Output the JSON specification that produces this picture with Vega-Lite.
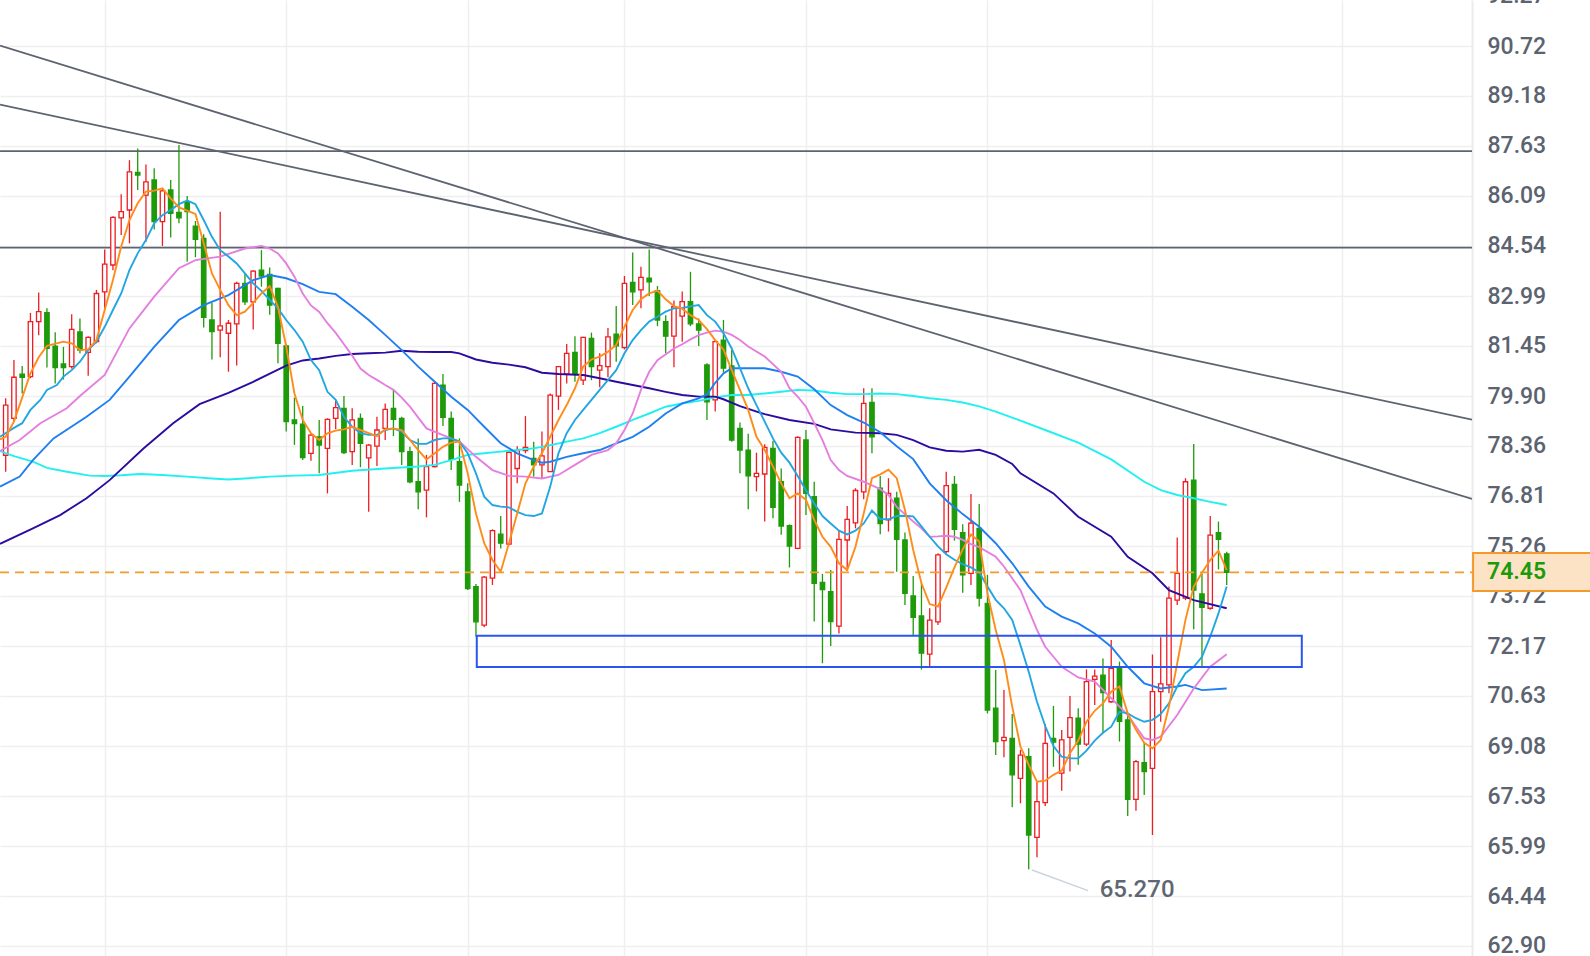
{
"$schema": "https://vega.github.io/schema/vega-lite/v6.json",
"width": 1472, "height": 956,
"autosize": {"type": "none"},
"padding": {"left": 0, "top": 0, "right": 118, "bottom": 0},
"background": "white",
"config": {"view": {"stroke": null}},
"datasets": {
"candles": [
{"i":0,"o":78.07,"h":79.83,"l":77.56,"c":79.62},{"i":1,"o":79.21,"h":81.01,"l":79.11,"c":80.48},{"i":2,"o":80.58,"h":80.83,"l":79.98,"c":80.48},{"i":3,"o":80.50,"h":82.47,"l":80.45,"c":82.20},{"i":4,"o":82.20,"h":83.10,"l":81.78,"c":82.51},{"i":5,"o":82.48,"h":82.61,"l":80.78,"c":81.37},{"i":6,"o":81.44,"h":81.87,"l":80.29,"c":80.78},{"i":7,"o":80.89,"h":81.42,"l":80.41,"c":80.78},{"i":8,"o":80.81,"h":82.43,"l":80.75,"c":81.96},{"i":9,"o":81.88,"h":82.30,"l":81.22,"c":81.32},
{"i":10,"o":81.25,"h":81.75,"l":80.53,"c":81.71},{"i":11,"o":81.58,"h":83.18,"l":81.53,"c":83.07},{"i":12,"o":83.12,"h":84.43,"l":82.58,"c":83.98},{"i":13,"o":83.95,"h":85.46,"l":83.79,"c":85.42},{"i":14,"o":85.41,"h":86.14,"l":84.88,"c":85.60},{"i":15,"o":85.65,"h":87.19,"l":84.62,"c":86.83},{"i":16,"o":86.81,"h":87.55,"l":86.27,"c":86.73},{"i":17,"o":86.11,"h":87.06,"l":84.67,"c":86.52},{"i":18,"o":86.58,"h":86.94,"l":85.05,"c":85.29},{"i":19,"o":85.29,"h":86.32,"l":84.54,"c":86.24},
{"i":20,"o":86.27,"h":86.58,"l":84.80,"c":85.55},{"i":21,"o":85.58,"h":87.66,"l":85.24,"c":85.41},{"i":22,"o":85.91,"h":86.08,"l":84.05,"c":85.60},{"i":23,"o":85.15,"h":85.31,"l":84.19,"c":84.74},{"i":24,"o":84.77,"h":84.90,"l":82.02,"c":82.33},{"i":25,"o":82.25,"h":82.78,"l":81.03,"c":81.89},{"i":26,"o":81.94,"h":85.60,"l":81.10,"c":82.07},{"i":27,"o":81.84,"h":82.25,"l":80.65,"c":82.15},{"i":28,"o":82.13,"h":83.43,"l":80.84,"c":83.38},{"i":29,"o":83.38,"h":83.67,"l":82.71,"c":82.81},
{"i":30,"o":82.81,"h":83.79,"l":81.96,"c":83.76},{"i":31,"o":83.79,"h":84.41,"l":83.28,"c":83.61},{"i":32,"o":83.66,"h":83.87,"l":82.41,"c":82.71},{"i":33,"o":83.23,"h":83.25,"l":80.91,"c":81.53},{"i":34,"o":81.45,"h":81.50,"l":78.80,"c":79.11},{"i":35,"o":79.16,"h":79.85,"l":78.39,"c":79.05},{"i":36,"o":79.03,"h":79.59,"l":77.92,"c":78.00},{"i":37,"o":78.13,"h":78.74,"l":77.90,"c":78.69},{"i":38,"o":78.64,"h":79.16,"l":77.51,"c":78.38},{"i":39,"o":78.28,"h":79.21,"l":76.89,"c":79.18},
{"i":40,"o":79.21,"h":79.78,"l":78.87,"c":79.54},{"i":41,"o":79.52,"h":79.90,"l":78.11,"c":78.15},{"i":42,"o":78.18,"h":79.52,"l":77.77,"c":79.16},{"i":43,"o":79.21,"h":79.36,"l":77.70,"c":78.44},{"i":44,"o":77.99,"h":78.42,"l":76.32,"c":78.38},{"i":45,"o":78.35,"h":79.26,"l":77.74,"c":78.85},{"i":46,"o":78.90,"h":79.67,"l":78.54,"c":79.49},{"i":47,"o":79.52,"h":80.09,"l":78.66,"c":79.18},{"i":48,"o":79.21,"h":79.26,"l":77.77,"c":78.18},{"i":49,"o":78.18,"h":78.33,"l":77.20,"c":77.25},
{"i":50,"o":77.25,"h":78.59,"l":76.40,"c":76.94},{"i":51,"o":76.99,"h":78.08,"l":76.15,"c":77.72},{"i":52,"o":77.72,"h":80.34,"l":77.69,"c":80.29},{"i":53,"o":80.24,"h":80.58,"l":78.97,"c":79.24},{"i":54,"o":79.21,"h":79.42,"l":77.61,"c":77.94},{"i":55,"o":77.87,"h":78.59,"l":76.63,"c":77.15},{"i":56,"o":76.94,"h":77.20,"l":73.90,"c":73.95},{"i":57,"o":74.01,"h":74.09,"l":72.46,"c":72.92},{"i":58,"o":72.82,"h":74.34,"l":72.75,"c":74.30},{"i":59,"o":74.27,"h":75.78,"l":74.06,"c":75.74},
{"i":60,"o":75.63,"h":76.19,"l":75.19,"c":75.35},{"i":61,"o":75.32,"h":78.21,"l":75.29,"c":78.16},{"i":62,"o":77.66,"h":78.35,"l":77.20,"c":78.21},{"i":63,"o":78.21,"h":79.28,"l":78.13,"c":78.31},{"i":64,"o":77.97,"h":78.49,"l":77.41,"c":77.77},{"i":65,"o":77.77,"h":78.80,"l":77.36,"c":78.05},{"i":66,"o":77.56,"h":79.98,"l":77.56,"c":79.93},{"i":67,"o":79.90,"h":80.83,"l":79.47,"c":80.81},{"i":68,"o":80.58,"h":81.51,"l":80.29,"c":81.22},{"i":69,"o":81.25,"h":81.75,"l":80.34,"c":80.60},
{"i":70,"o":80.39,"h":81.73,"l":80.24,"c":81.71},{"i":71,"o":81.68,"h":81.86,"l":80.39,"c":80.81},{"i":72,"o":80.70,"h":81.22,"l":80.17,"c":80.84},{"i":73,"o":80.81,"h":82.00,"l":80.48,"c":81.73},{"i":74,"o":81.81,"h":82.68,"l":80.96,"c":81.45},{"i":75,"o":81.40,"h":83.61,"l":81.34,"c":83.38},{"i":76,"o":83.41,"h":84.34,"l":82.71,"c":83.12},{"i":77,"o":83.18,"h":83.90,"l":82.61,"c":83.57},{"i":78,"o":83.54,"h":84.43,"l":82.99,"c":83.43},{"i":79,"o":83.16,"h":83.30,"l":82.06,"c":82.25},
{"i":80,"o":82.20,"h":82.40,"l":81.22,"c":81.75},{"i":81,"o":81.75,"h":82.85,"l":80.79,"c":82.66},{"i":82,"o":82.37,"h":83.13,"l":81.58,"c":82.82},{"i":83,"o":82.82,"h":83.74,"l":82.06,"c":82.13},{"i":84,"o":82.13,"h":82.30,"l":81.45,"c":81.94},{"i":85,"o":80.86,"h":80.91,"l":79.16,"c":79.72},{"i":86,"o":79.78,"h":81.63,"l":79.42,"c":81.58},{"i":87,"o":81.63,"h":82.25,"l":80.62,"c":80.76},{"i":88,"o":80.83,"h":81.32,"l":78.49,"c":78.54},{"i":89,"o":78.90,"h":79.08,"l":77.51,"c":78.23},
{"i":90,"o":78.23,"h":78.73,"l":76.40,"c":77.43},{"i":91,"o":77.41,"h":78.15,"l":76.95,"c":77.51},{"i":92,"o":77.49,"h":78.41,"l":76.02,"c":78.31},{"i":93,"o":78.28,"h":78.52,"l":76.12,"c":76.46},{"i":94,"o":77.25,"h":77.66,"l":75.61,"c":75.88},{"i":95,"o":75.89,"h":75.93,"l":74.60,"c":75.26},{"i":96,"o":75.19,"h":78.66,"l":75.16,"c":78.62},{"i":97,"o":78.54,"h":78.85,"l":76.22,"c":76.89},{"i":98,"o":76.79,"h":77.25,"l":72.93,"c":74.11},{"i":99,"o":74.14,"h":74.40,"l":71.64,"c":73.92},
{"i":100,"o":73.85,"h":74.52,"l":72.17,"c":72.93},{"i":101,"o":72.79,"h":75.74,"l":72.56,"c":75.47},{"i":102,"o":75.45,"h":76.50,"l":74.50,"c":76.09},{"i":103,"o":75.98,"h":77.05,"l":75.81,"c":76.98},{"i":104,"o":76.94,"h":80.14,"l":76.71,"c":79.67},{"i":105,"o":79.70,"h":80.14,"l":78.13,"c":78.64},{"i":106,"o":77.05,"h":77.43,"l":75.63,"c":75.96},{"i":107,"o":76.07,"h":77.36,"l":75.71,"c":76.89},{"i":108,"o":76.74,"h":76.94,"l":74.47,"c":75.47},{"i":109,"o":75.45,"h":75.68,"l":73.44,"c":73.80},
{"i":110,"o":73.72,"h":74.34,"l":72.51,"c":73.06},{"i":111,"o":73.10,"h":74.13,"l":71.45,"c":71.95},{"i":112,"o":71.92,"h":73.34,"l":71.53,"c":72.97},{"i":113,"o":72.92,"h":75.04,"l":72.82,"c":74.99},{"i":114,"o":75.09,"h":77.56,"l":75.04,"c":77.13},{"i":115,"o":77.17,"h":77.43,"l":75.43,"c":75.78},{"i":116,"o":75.68,"h":75.94,"l":73.82,"c":74.37},{"i":117,"o":74.42,"h":76.87,"l":74.06,"c":75.97},{"i":118,"o":75.81,"h":76.56,"l":73.39,"c":73.65},{"i":119,"o":73.49,"h":74.37,"l":70.09,"c":70.19},
{"i":120,"o":70.25,"h":71.43,"l":68.80,"c":69.22},{"i":121,"o":69.25,"h":70.81,"l":68.73,"c":69.35},{"i":122,"o":69.32,"h":70.07,"l":67.19,"c":68.19},{"i":123,"o":68.08,"h":68.96,"l":67.31,"c":68.80},{"i":124,"o":68.75,"h":69.01,"l":65.27,"c":66.33},{"i":125,"o":66.26,"h":67.98,"l":65.64,"c":67.36},{"i":126,"o":67.33,"h":69.76,"l":67.23,"c":69.16},{"i":127,"o":69.32,"h":70.32,"l":68.44,"c":69.20},{"i":128,"o":68.24,"h":69.58,"l":67.70,"c":69.27},{"i":129,"o":69.35,"h":70.63,"l":68.29,"c":69.96},
{"i":130,"o":69.94,"h":70.25,"l":68.50,"c":69.14},{"i":131,"o":69.14,"h":71.45,"l":69.08,"c":71.07},{"i":132,"o":71.14,"h":71.45,"l":70.35,"c":71.24},{"i":133,"o":71.27,"h":71.79,"l":69.47,"c":70.73},{"i":134,"o":70.45,"h":72.36,"l":70.42,"c":71.48},{"i":135,"o":71.53,"h":71.69,"l":69.22,"c":69.84},{"i":136,"o":69.89,"h":70.04,"l":66.92,"c":67.43},{"i":137,"o":67.43,"h":68.65,"l":67.08,"c":68.60},{"i":138,"o":68.57,"h":69.19,"l":67.57,"c":68.29},{"i":139,"o":68.39,"h":71.91,"l":66.33,"c":70.76},
{"i":140,"o":70.76,"h":72.44,"l":69.83,"c":71.00},{"i":141,"o":70.97,"h":74.01,"l":70.71,"c":73.65},{"i":142,"o":73.59,"h":75.53,"l":73.44,"c":74.42},{"i":143,"o":73.65,"h":77.36,"l":73.59,"c":77.25},{"i":144,"o":77.30,"h":78.42,"l":72.69,"c":73.90},{"i":145,"o":73.78,"h":74.40,"l":71.53,"c":73.37},{"i":146,"o":73.34,"h":76.19,"l":73.29,"c":75.60},{"i":147,"o":75.68,"h":76.02,"l":74.54,"c":75.47},{"i":148,"o":75.02,"h":75.09,"l":74.06,"c":74.45}
],
"ma": [
{"s":"cyan","i":-0.69,"v":78.20},{"s":"cyan","i":1,"v":78.04},{"s":"cyan","i":3.3,"v":77.87},{"s":"cyan","i":5,"v":77.68},{"s":"cyan","i":7.4,"v":77.56},{"s":"cyan","i":10.2,"v":77.44},{"s":"cyan","i":12,"v":77.43},{"s":"cyan","i":14,"v":77.45},{"s":"cyan","i":16.3,"v":77.49},{"s":"cyan","i":19,"v":77.46},{"s":"cyan","i":22,"v":77.41},{"s":"cyan","i":25,"v":77.35},{"s":"cyan","i":27,"v":77.32},{"s":"cyan","i":29,"v":77.35},{"s":"cyan","i":32,"v":77.41},{"s":"cyan","i":35,"v":77.44},{"s":"cyan","i":38,"v":77.46},{"s":"cyan","i":42,"v":77.59},{"s":"cyan","i":46,"v":77.66},{"s":"cyan","i":50,"v":77.72},{"s":"cyan","i":52,"v":77.77},{"s":"cyan","i":54,"v":77.92},{"s":"cyan","i":56,"v":78.08},{"s":"cyan","i":58,"v":78.13},{"s":"cyan","i":60,"v":78.18},{"s":"cyan","i":62,"v":78.23},{"s":"cyan","i":64,"v":78.28},{"s":"cyan","i":66,"v":78.38},{"s":"cyan","i":68,"v":78.49},{"s":"cyan","i":70,"v":78.59},{"s":"cyan","i":72,"v":78.75},{"s":"cyan","i":74,"v":78.95},{"s":"cyan","i":76,"v":79.16},{"s":"cyan","i":78,"v":79.36},{"s":"cyan","i":80,"v":79.57},{"s":"cyan","i":82,"v":79.67},{"s":"cyan","i":84,"v":79.75},{"s":"cyan","i":86,"v":79.86},{"s":"cyan","i":88,"v":79.93},{"s":"cyan","i":90,"v":79.93},{"s":"cyan","i":92,"v":79.98},{"s":"cyan","i":94,"v":80.03},{"s":"cyan","i":96,"v":80.09},{"s":"cyan","i":98,"v":80.07},{"s":"cyan","i":100,"v":80.00},{"s":"cyan","i":102,"v":79.96},{"s":"cyan","i":104,"v":79.96},{"s":"cyan","i":106,"v":79.98},{"s":"cyan","i":108,"v":79.96},{"s":"cyan","i":110,"v":79.90},{"s":"cyan","i":112,"v":79.83},{"s":"cyan","i":114,"v":79.78},{"s":"cyan","i":116,"v":79.70},{"s":"cyan","i":118,"v":79.58},{"s":"cyan","i":120,"v":79.42},{"s":"cyan","i":123,"v":79.14},{"s":"cyan","i":126,"v":78.85},{"s":"cyan","i":130,"v":78.46},{"s":"cyan","i":134,"v":77.94},{"s":"cyan","i":138,"v":77.25},{"s":"cyan","i":140,"v":76.99},{"s":"cyan","i":142,"v":76.84},{"s":"cyan","i":144,"v":76.74},{"s":"cyan","i":146,"v":76.63},{"s":"cyan","i":148,"v":76.53},
{"s":"navy","i":-0.69,"v":75.33},{"s":"navy","i":3.3,"v":75.81},{"s":"navy","i":6.6,"v":76.22},{"s":"navy","i":9.8,"v":76.74},{"s":"navy","i":12.6,"v":77.30},{"s":"navy","i":16.7,"v":78.28},{"s":"navy","i":20.3,"v":79.06},{"s":"navy","i":23.5,"v":79.65},{"s":"navy","i":27,"v":80.00},{"s":"navy","i":30,"v":80.34},{"s":"navy","i":34,"v":80.84},{"s":"navy","i":36,"v":81.00},{"s":"navy","i":38,"v":81.06},{"s":"navy","i":40,"v":81.14},{"s":"navy","i":42,"v":81.20},{"s":"navy","i":44,"v":81.22},{"s":"navy","i":46,"v":81.24},{"s":"navy","i":48,"v":81.30},{"s":"navy","i":50,"v":81.27},{"s":"navy","i":52,"v":81.26},{"s":"navy","i":54,"v":81.26},{"s":"navy","i":55,"v":81.22},{"s":"navy","i":57,"v":81.03},{"s":"navy","i":59,"v":80.93},{"s":"navy","i":61,"v":80.87},{"s":"navy","i":63,"v":80.79},{"s":"navy","i":65,"v":80.62},{"s":"navy","i":67,"v":80.58},{"s":"navy","i":70,"v":80.55},{"s":"navy","i":72,"v":80.45},{"s":"navy","i":74,"v":80.34},{"s":"navy","i":76,"v":80.24},{"s":"navy","i":78,"v":80.14},{"s":"navy","i":80,"v":80.03},{"s":"navy","i":82,"v":79.93},{"s":"navy","i":84,"v":79.88},{"s":"navy","i":86,"v":79.88},{"s":"navy","i":87,"v":79.80},{"s":"navy","i":89,"v":79.59},{"s":"navy","i":92,"v":79.34},{"s":"navy","i":95,"v":79.16},{"s":"navy","i":98,"v":79.04},{"s":"navy","i":100,"v":78.87},{"s":"navy","i":103,"v":78.77},{"s":"navy","i":106,"v":78.75},{"s":"navy","i":108,"v":78.70},{"s":"navy","i":110,"v":78.54},{"s":"navy","i":112,"v":78.31},{"s":"navy","i":114,"v":78.21},{"s":"navy","i":116,"v":78.18},{"s":"navy","i":118,"v":78.24},{"s":"navy","i":120,"v":78.08},{"s":"navy","i":122,"v":77.80},{"s":"navy","i":123,"v":77.51},{"s":"navy","i":127,"v":76.89},{"s":"navy","i":130,"v":76.17},{"s":"navy","i":134,"v":75.55},{"s":"navy","i":136,"v":74.93},{"s":"navy","i":139,"v":74.42},{"s":"navy","i":141,"v":73.90},{"s":"navy","i":144,"v":73.59},{"s":"navy","i":148,"v":73.34},
{"s":"blue","i":-0.69,"v":77.10},{"s":"blue","i":1.7,"v":77.41},{"s":"blue","i":3.3,"v":77.92},{"s":"blue","i":5.8,"v":78.59},{"s":"blue","i":9.8,"v":79.26},{"s":"blue","i":12.6,"v":79.78},{"s":"blue","i":15,"v":80.50},{"s":"blue","i":18,"v":81.42},{"s":"blue","i":21,"v":82.25},{"s":"blue","i":24,"v":82.71},{"s":"blue","i":27,"v":83.02},{"s":"blue","i":30,"v":83.48},{"s":"blue","i":32,"v":83.64},{"s":"blue","i":34,"v":83.54},{"s":"blue","i":36,"v":83.36},{"s":"blue","i":38,"v":83.12},{"s":"blue","i":40,"v":83.05},{"s":"blue","i":42,"v":82.66},{"s":"blue","i":44,"v":82.25},{"s":"blue","i":46,"v":81.79},{"s":"blue","i":48,"v":81.32},{"s":"blue","i":50,"v":80.81},{"s":"blue","i":52,"v":80.34},{"s":"blue","i":54,"v":79.88},{"s":"blue","i":56,"v":79.47},{"s":"blue","i":58,"v":78.95},{"s":"blue","i":60,"v":78.44},{"s":"blue","i":62,"v":78.13},{"s":"blue","i":64,"v":77.92},{"s":"blue","i":65,"v":77.84},{"s":"blue","i":66,"v":77.87},{"s":"blue","i":68,"v":78.02},{"s":"blue","i":70,"v":78.13},{"s":"blue","i":72,"v":78.23},{"s":"blue","i":74,"v":78.44},{"s":"blue","i":76,"v":78.64},{"s":"blue","i":78,"v":78.95},{"s":"blue","i":80,"v":79.36},{"s":"blue","i":82,"v":79.67},{"s":"blue","i":84,"v":79.83},{"s":"blue","i":85,"v":79.95},{"s":"blue","i":86,"v":80.31},{"s":"blue","i":87,"v":80.60},{"s":"blue","i":88,"v":80.76},{"s":"blue","i":90,"v":80.76},{"s":"blue","i":92,"v":80.76},{"s":"blue","i":94,"v":80.65},{"s":"blue","i":96,"v":80.50},{"s":"blue","i":98,"v":80.11},{"s":"blue","i":100,"v":79.62},{"s":"blue","i":102,"v":79.31},{"s":"blue","i":104,"v":79.08},{"s":"blue","i":106,"v":78.78},{"s":"blue","i":108,"v":78.35},{"s":"blue","i":110,"v":77.95},{"s":"blue","i":112,"v":77.20},{"s":"blue","i":114,"v":76.68},{"s":"blue","i":116,"v":76.25},{"s":"blue","i":118,"v":75.86},{"s":"blue","i":120,"v":75.35},{"s":"blue","i":122,"v":74.73},{"s":"blue","i":124,"v":74.01},{"s":"blue","i":126,"v":73.39},{"s":"blue","i":128,"v":73.08},{"s":"blue","i":130,"v":72.87},{"s":"blue","i":132,"v":72.56},{"s":"blue","i":134,"v":72.15},{"s":"blue","i":136,"v":71.53},{"s":"blue","i":138,"v":71.02},{"s":"blue","i":140,"v":70.86},{"s":"blue","i":142,"v":70.92},{"s":"blue","i":143,"v":70.97},{"s":"blue","i":145,"v":70.81},{"s":"blue","i":148,"v":70.86},
{"s":"pink","i":-0.69,"v":78.20},{"s":"pink","i":1.7,"v":78.54},{"s":"pink","i":4.2,"v":79.06},{"s":"pink","i":7.4,"v":79.52},{"s":"pink","i":9,"v":79.90},{"s":"pink","i":12,"v":80.55},{"s":"pink","i":15,"v":81.99},{"s":"pink","i":18,"v":82.97},{"s":"pink","i":21,"v":83.85},{"s":"pink","i":23,"v":84.10},{"s":"pink","i":26,"v":84.21},{"s":"pink","i":29,"v":84.46},{"s":"pink","i":31,"v":84.54},{"s":"pink","i":32,"v":84.46},{"s":"pink","i":33,"v":84.31},{"s":"pink","i":34,"v":84.00},{"s":"pink","i":35,"v":83.59},{"s":"pink","i":36,"v":83.07},{"s":"pink","i":37,"v":82.70},{"s":"pink","i":38,"v":82.50},{"s":"pink","i":39,"v":82.15},{"s":"pink","i":40,"v":81.85},{"s":"pink","i":41,"v":81.50},{"s":"pink","i":42,"v":81.15},{"s":"pink","i":43,"v":80.75},{"s":"pink","i":44,"v":80.55},{"s":"pink","i":45,"v":80.40},{"s":"pink","i":46,"v":80.24},{"s":"pink","i":47,"v":80.09},{"s":"pink","i":48,"v":79.85},{"s":"pink","i":49,"v":79.57},{"s":"pink","i":51,"v":78.90},{"s":"pink","i":53,"v":78.69},{"s":"pink","i":55,"v":78.49},{"s":"pink","i":57,"v":78.02},{"s":"pink","i":59,"v":77.61},{"s":"pink","i":61,"v":77.43},{"s":"pink","i":63,"v":77.41},{"s":"pink","i":65,"v":77.35},{"s":"pink","i":67,"v":77.46},{"s":"pink","i":69,"v":77.77},{"s":"pink","i":71,"v":78.08},{"s":"pink","i":73,"v":78.23},{"s":"pink","i":74,"v":78.44},{"s":"pink","i":75,"v":78.85},{"s":"pink","i":76,"v":79.36},{"s":"pink","i":77,"v":80.09},{"s":"pink","i":78,"v":80.65},{"s":"pink","i":79,"v":81.01},{"s":"pink","i":81,"v":81.37},{"s":"pink","i":82,"v":81.50},{"s":"pink","i":83,"v":81.65},{"s":"pink","i":84,"v":81.78},{"s":"pink","i":85,"v":81.86},{"s":"pink","i":86,"v":81.92},{"s":"pink","i":87,"v":81.89},{"s":"pink","i":88,"v":81.79},{"s":"pink","i":89,"v":81.63},{"s":"pink","i":90,"v":81.43},{"s":"pink","i":92,"v":81.12},{"s":"pink","i":94,"v":80.65},{"s":"pink","i":95,"v":80.14},{"s":"pink","i":96,"v":79.88},{"s":"pink","i":97,"v":79.57},{"s":"pink","i":98,"v":79.06},{"s":"pink","i":99,"v":78.54},{"s":"pink","i":100,"v":77.92},{"s":"pink","i":101,"v":77.61},{"s":"pink","i":102,"v":77.43},{"s":"pink","i":104,"v":77.25},{"s":"pink","i":106,"v":77.02},{"s":"pink","i":107,"v":76.84},{"s":"pink","i":108,"v":76.47},{"s":"pink","i":109,"v":76.25},{"s":"pink","i":110,"v":76.02},{"s":"pink","i":111,"v":75.81},{"s":"pink","i":112,"v":75.55},{"s":"pink","i":113,"v":75.56},{"s":"pink","i":114,"v":75.58},{"s":"pink","i":115,"v":75.55},{"s":"pink","i":116,"v":75.45},{"s":"pink","i":117,"v":75.32},{"s":"pink","i":118,"v":75.23},{"s":"pink","i":120,"v":74.93},{"s":"pink","i":121,"v":74.63},{"s":"pink","i":123,"v":73.90},{"s":"pink","i":125,"v":72.67},{"s":"pink","i":126,"v":72.15},{"s":"pink","i":127,"v":71.84},{"s":"pink","i":128,"v":71.53},{"s":"pink","i":130,"v":71.20},{"s":"pink","i":132,"v":71.07},{"s":"pink","i":134,"v":70.56},{"s":"pink","i":136,"v":70.04},{"s":"pink","i":138,"v":69.32},{"s":"pink","i":139,"v":69.27},{"s":"pink","i":140,"v":69.37},{"s":"pink","i":142,"v":70.04},{"s":"pink","i":144,"v":70.86},{"s":"pink","i":146,"v":71.53},{"s":"pink","i":148,"v":71.92},
{"s":"lblue","i":-0.69,"v":78.64},{"s":"lblue","i":0.9,"v":78.90},{"s":"lblue","i":2,"v":79.06},{"s":"lblue","i":3,"v":79.47},{"s":"lblue","i":4.2,"v":79.78},{"s":"lblue","i":5,"v":80.09},{"s":"lblue","i":6.2,"v":80.24},{"s":"lblue","i":7,"v":80.50},{"s":"lblue","i":8,"v":80.70},{"s":"lblue","i":9,"v":80.96},{"s":"lblue","i":10,"v":81.32},{"s":"lblue","i":11,"v":81.58},{"s":"lblue","i":12,"v":82.04},{"s":"lblue","i":13,"v":82.56},{"s":"lblue","i":14,"v":83.07},{"s":"lblue","i":15,"v":83.79},{"s":"lblue","i":16,"v":84.31},{"s":"lblue","i":17,"v":84.72},{"s":"lblue","i":18,"v":85.24},{"s":"lblue","i":19,"v":85.49},{"s":"lblue","i":20,"v":85.65},{"s":"lblue","i":21,"v":85.83},{"s":"lblue","i":22,"v":85.94},{"s":"lblue","i":23,"v":85.83},{"s":"lblue","i":24,"v":85.34},{"s":"lblue","i":25,"v":84.82},{"s":"lblue","i":26,"v":84.41},{"s":"lblue","i":27,"v":84.21},{"s":"lblue","i":28,"v":84.00},{"s":"lblue","i":29,"v":83.69},{"s":"lblue","i":30,"v":83.38},{"s":"lblue","i":31,"v":83.15},{"s":"lblue","i":32,"v":82.87},{"s":"lblue","i":33,"v":82.61},{"s":"lblue","i":34,"v":82.25},{"s":"lblue","i":35,"v":81.94},{"s":"lblue","i":36,"v":81.58},{"s":"lblue","i":37,"v":81.01},{"s":"lblue","i":38,"v":80.70},{"s":"lblue","i":39,"v":80.03},{"s":"lblue","i":40,"v":79.78},{"s":"lblue","i":41,"v":79.26},{"s":"lblue","i":42,"v":78.95},{"s":"lblue","i":43,"v":78.75},{"s":"lblue","i":44,"v":78.70},{"s":"lblue","i":45,"v":78.70},{"s":"lblue","i":46,"v":78.85},{"s":"lblue","i":47,"v":78.90},{"s":"lblue","i":48,"v":78.80},{"s":"lblue","i":49,"v":78.54},{"s":"lblue","i":50,"v":78.42},{"s":"lblue","i":51,"v":78.42},{"s":"lblue","i":52,"v":78.54},{"s":"lblue","i":53,"v":78.59},{"s":"lblue","i":54,"v":78.59},{"s":"lblue","i":55,"v":78.49},{"s":"lblue","i":56,"v":78.13},{"s":"lblue","i":57,"v":77.51},{"s":"lblue","i":58,"v":76.79},{"s":"lblue","i":59,"v":76.53},{"s":"lblue","i":60,"v":76.48},{"s":"lblue","i":61,"v":76.46},{"s":"lblue","i":62,"v":76.32},{"s":"lblue","i":63,"v":76.22},{"s":"lblue","i":64,"v":76.19},{"s":"lblue","i":65,"v":76.27},{"s":"lblue","i":66,"v":77.10},{"s":"lblue","i":67,"v":78.13},{"s":"lblue","i":68,"v":78.75},{"s":"lblue","i":69,"v":79.16},{"s":"lblue","i":70,"v":79.47},{"s":"lblue","i":71,"v":79.78},{"s":"lblue","i":72,"v":80.09},{"s":"lblue","i":73,"v":80.39},{"s":"lblue","i":74,"v":80.70},{"s":"lblue","i":75,"v":81.22},{"s":"lblue","i":76,"v":81.63},{"s":"lblue","i":77,"v":81.94},{"s":"lblue","i":78,"v":82.20},{"s":"lblue","i":79,"v":82.35},{"s":"lblue","i":80,"v":82.51},{"s":"lblue","i":81,"v":82.61},{"s":"lblue","i":82,"v":82.62},{"s":"lblue","i":83,"v":82.67},{"s":"lblue","i":84,"v":82.71},{"s":"lblue","i":85,"v":82.40},{"s":"lblue","i":86,"v":82.20},{"s":"lblue","i":87,"v":81.84},{"s":"lblue","i":88,"v":81.37},{"s":"lblue","i":89,"v":80.76},{"s":"lblue","i":90,"v":80.14},{"s":"lblue","i":91,"v":79.62},{"s":"lblue","i":92,"v":79.11},{"s":"lblue","i":93,"v":78.59},{"s":"lblue","i":94,"v":78.15},{"s":"lblue","i":95,"v":77.84},{"s":"lblue","i":96,"v":77.43},{"s":"lblue","i":97,"v":76.99},{"s":"lblue","i":98,"v":76.58},{"s":"lblue","i":99,"v":76.19},{"s":"lblue","i":100,"v":75.96},{"s":"lblue","i":101,"v":75.74},{"s":"lblue","i":102,"v":75.62},{"s":"lblue","i":103,"v":75.74},{"s":"lblue","i":104,"v":75.96},{"s":"lblue","i":105,"v":76.36},{"s":"lblue","i":106,"v":76.10},{"s":"lblue","i":107,"v":76.09},{"s":"lblue","i":108,"v":76.19},{"s":"lblue","i":109,"v":76.20},{"s":"lblue","i":110,"v":76.18},{"s":"lblue","i":111,"v":75.87},{"s":"lblue","i":112,"v":75.55},{"s":"lblue","i":113,"v":75.25},{"s":"lblue","i":114,"v":75.01},{"s":"lblue","i":115,"v":74.84},{"s":"lblue","i":116,"v":74.70},{"s":"lblue","i":117,"v":74.60},{"s":"lblue","i":118,"v":74.45},{"s":"lblue","i":119,"v":74.01},{"s":"lblue","i":120,"v":73.60},{"s":"lblue","i":121,"v":73.34},{"s":"lblue","i":122,"v":72.98},{"s":"lblue","i":123,"v":72.20},{"s":"lblue","i":124,"v":71.38},{"s":"lblue","i":125,"v":70.45},{"s":"lblue","i":126,"v":69.70},{"s":"lblue","i":127,"v":69.08},{"s":"lblue","i":128,"v":68.75},{"s":"lblue","i":129,"v":68.70},{"s":"lblue","i":130,"v":68.70},{"s":"lblue","i":131,"v":68.94},{"s":"lblue","i":132,"v":69.25},{"s":"lblue","i":133,"v":69.49},{"s":"lblue","i":134,"v":69.68},{"s":"lblue","i":135,"v":70.14},{"s":"lblue","i":136,"v":70.09},{"s":"lblue","i":137,"v":69.94},{"s":"lblue","i":138,"v":69.83},{"s":"lblue","i":139,"v":69.89},{"s":"lblue","i":140,"v":70.07},{"s":"lblue","i":141,"v":70.40},{"s":"lblue","i":142,"v":70.92},{"s":"lblue","i":143,"v":71.33},{"s":"lblue","i":144,"v":71.53},{"s":"lblue","i":145,"v":71.84},{"s":"lblue","i":146,"v":72.46},{"s":"lblue","i":147,"v":73.18},{"s":"lblue","i":148,"v":74.01},
{"s":"orange","i":-0.69,"v":78.56},{"s":"orange","i":0,"v":78.64},{"s":"orange","i":1,"v":79.11},{"s":"orange","i":3,"v":80.60},{"s":"orange","i":4,"v":81.10},{"s":"orange","i":5,"v":81.45},{"s":"orange","i":7,"v":81.58},{"s":"orange","i":8,"v":81.53},{"s":"orange","i":9,"v":81.32},{"s":"orange","i":10,"v":81.34},{"s":"orange","i":11,"v":81.63},{"s":"orange","i":12,"v":82.56},{"s":"orange","i":13,"v":83.49},{"s":"orange","i":14,"v":84.52},{"s":"orange","i":15,"v":85.34},{"s":"orange","i":16,"v":85.86},{"s":"orange","i":17,"v":86.22},{"s":"orange","i":18,"v":86.25},{"s":"orange","i":19,"v":86.32},{"s":"orange","i":20,"v":86.01},{"s":"orange","i":21,"v":85.73},{"s":"orange","i":23,"v":85.53},{"s":"orange","i":24,"v":84.62},{"s":"orange","i":25,"v":83.69},{"s":"orange","i":26,"v":83.18},{"s":"orange","i":27,"v":82.71},{"s":"orange","i":28,"v":82.40},{"s":"orange","i":29,"v":82.51},{"s":"orange","i":30,"v":82.78},{"s":"orange","i":31,"v":83.07},{"s":"orange","i":32,"v":83.30},{"s":"orange","i":33,"v":82.66},{"s":"orange","i":34,"v":81.43},{"s":"orange","i":35,"v":79.98},{"s":"orange","i":36,"v":79.16},{"s":"orange","i":37,"v":78.75},{"s":"orange","i":38,"v":78.54},{"s":"orange","i":39,"v":78.75},{"s":"orange","i":40,"v":78.83},{"s":"orange","i":41,"v":78.87},{"s":"orange","i":42,"v":78.95},{"s":"orange","i":43,"v":78.85},{"s":"orange","i":44,"v":78.75},{"s":"orange","i":45,"v":78.66},{"s":"orange","i":46,"v":78.87},{"s":"orange","i":47,"v":78.90},{"s":"orange","i":48,"v":78.85},{"s":"orange","i":49,"v":78.54},{"s":"orange","i":50,"v":78.23},{"s":"orange","i":51,"v":77.94},{"s":"orange","i":52,"v":78.13},{"s":"orange","i":53,"v":78.33},{"s":"orange","i":54,"v":78.46},{"s":"orange","i":55,"v":78.49},{"s":"orange","i":56,"v":77.51},{"s":"orange","i":57,"v":76.27},{"s":"orange","i":58,"v":75.35},{"s":"orange","i":59,"v":74.83},{"s":"orange","i":60,"v":74.47},{"s":"orange","i":61,"v":75.35},{"s":"orange","i":62,"v":76.27},{"s":"orange","i":63,"v":77.20},{"s":"orange","i":64,"v":77.72},{"s":"orange","i":65,"v":78.13},{"s":"orange","i":66,"v":78.64},{"s":"orange","i":67,"v":79.16},{"s":"orange","i":68,"v":79.62},{"s":"orange","i":69,"v":80.14},{"s":"orange","i":70,"v":80.81},{"s":"orange","i":71,"v":81.03},{"s":"orange","i":72,"v":81.12},{"s":"orange","i":73,"v":81.27},{"s":"orange","i":74,"v":81.48},{"s":"orange","i":75,"v":82.04},{"s":"orange","i":76,"v":82.56},{"s":"orange","i":77,"v":82.89},{"s":"orange","i":78,"v":83.07},{"s":"orange","i":79,"v":83.16},{"s":"orange","i":80,"v":82.89},{"s":"orange","i":81,"v":82.68},{"s":"orange","i":82,"v":82.60},{"s":"orange","i":83,"v":82.40},{"s":"orange","i":84,"v":82.25},{"s":"orange","i":85,"v":81.97},{"s":"orange","i":86,"v":81.63},{"s":"orange","i":87,"v":81.34},{"s":"orange","i":88,"v":80.70},{"s":"orange","i":89,"v":80.09},{"s":"orange","i":90,"v":79.47},{"s":"orange","i":91,"v":78.64},{"s":"orange","i":92,"v":78.23},{"s":"orange","i":93,"v":77.72},{"s":"orange","i":94,"v":77.20},{"s":"orange","i":95,"v":76.74},{"s":"orange","i":96,"v":76.89},{"s":"orange","i":97,"v":76.69},{"s":"orange","i":98,"v":76.07},{"s":"orange","i":99,"v":75.55},{"s":"orange","i":100,"v":75.24},{"s":"orange","i":101,"v":74.73},{"s":"orange","i":102,"v":74.52},{"s":"orange","i":103,"v":75.24},{"s":"orange","i":104,"v":76.27},{"s":"orange","i":105,"v":77.36},{"s":"orange","i":106,"v":77.48},{"s":"orange","i":107,"v":77.62},{"s":"orange","i":108,"v":77.36},{"s":"orange","i":109,"v":76.38},{"s":"orange","i":110,"v":75.14},{"s":"orange","i":111,"v":74.11},{"s":"orange","i":112,"v":73.47},{"s":"orange","i":113,"v":73.39},{"s":"orange","i":114,"v":73.98},{"s":"orange","i":115,"v":74.60},{"s":"orange","i":116,"v":75.16},{"s":"orange","i":117,"v":75.62},{"s":"orange","i":118,"v":75.40},{"s":"orange","i":119,"v":73.80},{"s":"orange","i":120,"v":72.67},{"s":"orange","i":121,"v":71.74},{"s":"orange","i":122,"v":70.30},{"s":"orange","i":123,"v":69.06},{"s":"orange","i":124,"v":68.50},{"s":"orange","i":125,"v":67.98},{"s":"orange","i":126,"v":68.01},{"s":"orange","i":127,"v":68.19},{"s":"orange","i":128,"v":68.32},{"s":"orange","i":129,"v":68.86},{"s":"orange","i":130,"v":69.25},{"s":"orange","i":131,"v":69.83},{"s":"orange","i":132,"v":70.17},{"s":"orange","i":133,"v":70.40},{"s":"orange","i":134,"v":70.76},{"s":"orange","i":135,"v":70.92},{"s":"orange","i":136,"v":70.09},{"s":"orange","i":137,"v":69.58},{"s":"orange","i":138,"v":69.18},{"s":"orange","i":139,"v":69.01},{"s":"orange","i":140,"v":69.27},{"s":"orange","i":141,"v":70.30},{"s":"orange","i":142,"v":71.64},{"s":"orange","i":143,"v":72.98},{"s":"orange","i":144,"v":74.01},{"s":"orange","i":145,"v":74.44},{"s":"orange","i":146,"v":74.83},{"s":"orange","i":147,"v":75.12},{"s":"orange","i":148,"v":74.52}
],
"lines": [
{"i":-0.69,"v":90.73,"i2":177.73,"v2":76.72},
{"i":-0.69,"v":88.91,"i2":177.73,"v2":79.17},
{"i":-0.69,"v":87.47,"i2":177.73,"v2":87.47},
{"i":-0.69,"v":84.49,"i2":177.73,"v2":84.49}
]
},
"encoding": {
"x": {"type": "quantitative", "title": null, "scale": {"domain": [-0.69, 177.73], "nice": false, "zero": false, "padding": 0},
"axis": {"values": [12, 34, 56, 75, 97, 119, 139, 162], "grid": true, "gridColor": "#efefef", "gridWidth": 1.5, "labels": false, "ticks": false, "domain": false, "title": null}},
"y": {"type": "quantitative", "title": null, "scale": {"domain": [62.59, 92.142], "nice": false, "zero": false},
"axis": {"orient": "right", "values": [62.90, 64.44, 65.99, 67.53, 69.08, 70.63, 72.17, 73.72, 75.26, 76.81, 78.36, 79.90, 81.45, 82.99, 84.54, 86.09, 87.63, 89.18, 90.72], "format": ".2f", "grid": true, "gridColor": "#efefef", "gridWidth": 1.5, "ticks": false, "domain": true, "domainColor": "#ebebeb", "domainWidth": 2, "labelFont": "Roboto", "labelFontSize": 23, "labelFontWeight": 500, "labelColor": "#5c6370", "labelPadding": 15, "labelOverlap": false, "labelFlush": false, "title": null}}
},
"layer": [
{
"data": {"name": "lines"},
"mark": {"type": "rule", "color": "#5d6370", "strokeWidth": 1.8, "clip": true},
"encoding": {
"x": {"field": "i"},
"y": {"field": "v"},
"x2": {"field": "i2"},
"y2": {"field": "v2"}
}
},
{
"data": {"name": "candles"},
"mark": {"type": "rule", "strokeWidth": 1.3},
"encoding": {
"x": {"field": "i"},
"y": {"field": "l"},
"y2": {"field": "h"},
"color": {"condition": {"test": "datum.c >= datum.o", "value": "#ee1d23"}, "value": "#1e9a0b"}
}
},
{
"data": {"name": "candles"},
"mark": {"type": "bar", "width": 4.4, "strokeWidth": 1.3},
"encoding": {
"x": {"field": "i"},
"y": {"field": "o"},
"y2": {"field": "c"},
"fill": {"condition": {"test": "datum.c >= datum.o", "value": "#ffffff"}, "value": "#1e9a0b"},
"stroke": {"condition": {"test": "datum.c >= datum.o", "value": "#ee1d23"}, "value": "#1e9a0b"}
}
},
{
"data": {"name": "ma"},
"mark": {"type": "line", "strokeWidth": 1.9, "clip": true},
"encoding": {
"x": {"field": "i"},
"y": {"field": "v"},
"color": {"field": "s", "type": "nominal", "legend": null,
"scale": {"domain": ["cyan", "navy", "blue", "pink", "lblue", "orange"], "range": ["#22f0f0", "#2c0ca0", "#1f7ff0", "#e47fdf", "#22a6e2", "#ff8c1a"]}}
}
},
{
"data": {"values": [{"i": -0.69, "i2": 177.73, "v": 74.45}]},
"mark": {"type": "rule", "color": "#f39b2b", "strokeWidth": 1.8, "strokeDash": [9, 6]},
"encoding": {
"x": {"field": "i"},
"x2": {"field": "i2"},
"y": {"field": "v"}
}
},
{
"data": {"values": [{"i": 57.1, "i2": 157.1, "v": 71.52, "v2": 72.49}]},
"mark": {"type": "rect", "filled": false, "stroke": "#2b55f0", "strokeWidth": 2},
"encoding": {
"x": {"field": "i"},
"x2": {"field": "i2"},
"y": {"field": "v"},
"y2": {"field": "v2"}
}
},
{
"data": {"values": [{"i": 124.4, "i2": 131.2, "v": 65.25, "v2": 64.61}]},
"mark": {"type": "rule", "color": "#ccd3da", "strokeWidth": 1.5},
"encoding": {
"x": {"field": "i"},
"x2": {"field": "i2"},
"y": {"field": "v"},
"y2": {"field": "v2"}
}
},
{
"data": {"values": [{"i": 132.6, "v": 64.63, "t": "65.270"}]},
"mark": {"type": "text", "align": "left", "baseline": "middle", "font": "Roboto", "fontSize": 24, "fontWeight": 500, "color": "#5f6673"},
"encoding": {
"x": {"field": "i"},
"y": {"field": "v"},
"text": {"field": "t"}
}
},
{
"data": {"values": [{"i": 179.55, "v": 92.27, "t": "92.27"}]},
"mark": {"type": "text", "align": "left", "baseline": "middle", "font": "Roboto", "fontSize": 23, "fontWeight": 500, "color": "#5c6370", "clip": false},
"encoding": {
"x": {"field": "i"},
"y": {"field": "v"},
"text": {"field": "t"}
}
},
{
"data": {"values": [{"i": 177.86, "i2": 192.2, "v": 73.87, "v2": 75.05}]},
"mark": {"type": "rect", "fill": "#fde3c6", "stroke": "#f39a2a", "strokeWidth": 2, "clip": false},
"encoding": {
"x": {"field": "i"},
"x2": {"field": "i2"},
"y": {"field": "v"},
"y2": {"field": "v2"}
}
},
{
"data": {"values": [{"i": 179.55, "v": 74.45, "t": "74.45"}]},
"mark": {"type": "text", "align": "left", "baseline": "middle", "font": "Roboto", "fontSize": 23, "fontWeight": 600, "color": "#1c9a0c", "clip": false},
"encoding": {
"x": {"field": "i"},
"y": {"field": "v"},
"text": {"field": "t"}
}
}
]
}
